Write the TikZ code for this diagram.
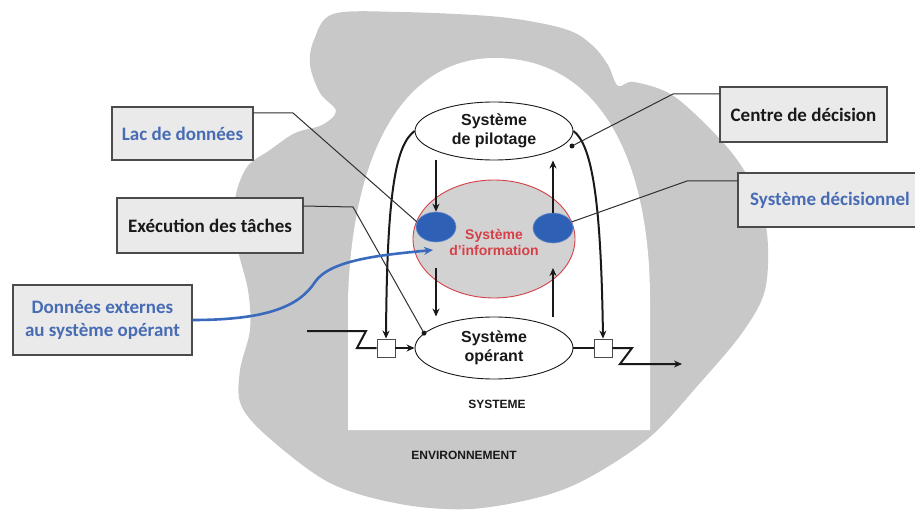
\documentclass[tikz,border=0pt]{standalone}
\usepackage{fontspec}
\setmainfont{Liberation Sans}
\newfontfamily\boxfont{Carlito}
\usetikzlibrary{arrows.meta,shapes.geometric}

\definecolor{envgray}{RGB}{200,200,200}
\definecolor{infogray}{RGB}{210,210,210}
\definecolor{infored}{RGB}{214,64,72}
\definecolor{dotblue}{RGB}{46,96,182}
\definecolor{labelblue}{RGB}{72,108,180}
\definecolor{flowblue}{RGB}{58,106,190}
\definecolor{boxfill}{RGB}{234,234,234}
\definecolor{boxline}{RGB}{75,75,75}
\definecolor{inktext}{RGB}{25,25,25}

\begin{document}
\begin{tikzpicture}[x=1pt,y=-1pt,
  labelbox/.style={draw=boxline, line width=1.2pt, fill=boxfill, align=center,
    inner sep=0pt, font=\boxfont\bfseries\fontsize{19}{23}\selectfont},
  sysell/.style={ellipse, draw=inktext, line width=0.9pt, fill=white, inner sep=0pt,
    align=center, font=\bfseries\fontsize{16}{19}\selectfont, text=inktext},
  blueblob/.style={ellipse, fill=dotblue, draw=dotblue!70!white, line width=0.6pt,
    minimum width=40pt, minimum height=30pt, inner sep=0pt},
  gate/.style={draw=boxline, fill=white, line width=0.8pt, minimum size=18pt, inner sep=0pt},
  flow/.style={line width=2pt, draw=inktext, -{Stealth[length=8pt,width=7pt]}},
  plainflow/.style={line width=2pt, draw=inktext},
  callout/.style={line width=1pt, draw=inktext!90!white},
  smalldot/.style={circle, fill=inktext, inner sep=0pt, minimum size=5pt},
  caption/.style={font=\bfseries\fontsize{12}{14}\selectfont, text=inktext}
]
\useasboundingbox (0,0) rectangle (915,513);

% environment
\fill[envgray] plot[smooth cycle, tension=0.55] coordinates {
  (314,40) (333,14) (400,12) (500,17) (565,29) (592,45) (608,65)
  (618,86) (634,82) (675,97) (727,147) (753,187) (767,233) (765,290)
  (742,333) (700,383) (650,437) (590,477) (540,497) (470,509) (400,504)
  (330,483) (268,437) (241,405) (240,370) (250,330) (248,290) (237,245)
  (235,200) (247,167) (270,150) (295,133) (322,125) (336,111) (320,93)
  (310,65)};

% system
\fill[white] (348,430) -- (348,300) .. controls (352,150) and (405,58) .. (495,58)
  .. controls (600,58) and (650,160) .. (650,300) -- (650,430) -- cycle;

\node[caption] (sys) at (497,404) {SYSTEME};
\node[caption] (env) at (464,455) {ENVIRONNEMENT};

% information system
\node[ellipse, fill=infogray, draw=infored, line width=0.9pt,
  minimum width=162pt, minimum height=118pt, inner sep=0pt] (info) at (494,239) {};
\node[align=center, text=infored, font=\bfseries\fontsize{14}{16}\selectfont]
  (infotxt) at (494,242) {Système\\d'information};
\node[blueblob] (ldot) at (436,227) {};
\node[blueblob] (rdot) at (553,228) {};

% steering and operating systems
\node[sysell, minimum width=158pt, minimum height=58pt] (pil) at (494,131)
  {Système\\de pilotage};
\node[sysell, minimum width=158pt, minimum height=62pt] (op) at (494,348)
  {Système\\opérant};

% regulation gates
\node[gate] (inbox) at (386,348) {};
\node[gate] (outbox) at (603,348) {};

% vertical exchanges
\coordinate (infoL) at (436,268);
\coordinate (infoR) at (553,268);
\draw[flow] (ldot |- pil.south) -- (ldot.north);
\draw[flow] (rdot.north) -- (rdot |- pil.south);
\draw[flow] (infoL) -- (infoL |- op.north);
\draw[flow] (infoR |- op.north) -- (infoR);

% loops from steering to the gates
\draw[flow] (pil.west) .. controls (396,145) and (387,190) .. (inbox.north);
\draw[flow] (pil.east) .. controls (592,145) and (601,200) .. (outbox.north);

% input and output flows
\coordinate (inStart) at (307,331);
\coordinate (inZa) at (366,331);
\coordinate (inZb) at (357,348);
\draw[plainflow, line join=miter] (inStart) -- (inZa) -- (inZb) -- (inbox.west);
\draw[flow] (inbox.east) -- (op.west);
\draw[plainflow] (op.east) -- (outbox.west);
\coordinate (outZa) at (632,348);
\coordinate (outZb) at (620,364);
\coordinate (outEnd) at (682,364);
\draw[flow, line join=miter] (outbox.east) -- (outZa) -- (outZb) -- (outEnd);

% markers
\node[smalldot] (opdot) at (op.168) {};
\node[smalldot] (pdot) at (572,146) {};

% labels
\node[labelbox, minimum width=141pt, minimum height=53pt, text=labelblue]
  (lac) at (182.5,133.5) {Lac de données};
\node[labelbox, minimum width=186pt, minimum height=55pt, text=inktext]
  (exec) at (210,225.5) {Exécution des tâches};
\node[labelbox, minimum width=179pt, minimum height=70pt, text=labelblue]
  (ext) at (102.5,320) {Données externes\\au système opérant};
\node[labelbox, minimum width=167pt, minimum height=55pt, text=inktext]
  (centre) at (803.5,114.5) {Centre de décision};
\node[labelbox, minimum width=184pt, minimum height=54pt, text=labelblue]
  (decis) at (830,200) {Système décisionnel};

% callout lines
\coordinate (lacA) at (253,113);
\coordinate (lacB) at (293,113);
\draw[callout] (lacA) -- (lacB) -- (ldot.165);
\coordinate (execA) at (303,206);
\coordinate (execB) at (353,207);
\draw[callout] (execA) -- (execB) -- (opdot);
\coordinate (centreA) at (720,94);
\coordinate (centreB) at (673,94);
\draw[callout] (centreA) -- (centreB) -- (pdot);
\coordinate (decisA) at (738,181);
\coordinate (decisB) at (687,181);
\draw[callout] (decisA) -- (decisB) -- (rdot.18);

% external data flow
\coordinate (extIn) at (433,250);
\draw[line width=2.6pt, draw=flowblue, -{Stealth[length=9pt,width=8pt]}]
  (ext.east) .. controls (270,320) and (300,305) .. (315,282)
  .. controls (330,260) and (380,255) .. (extIn);
\end{tikzpicture}
\end{document}
